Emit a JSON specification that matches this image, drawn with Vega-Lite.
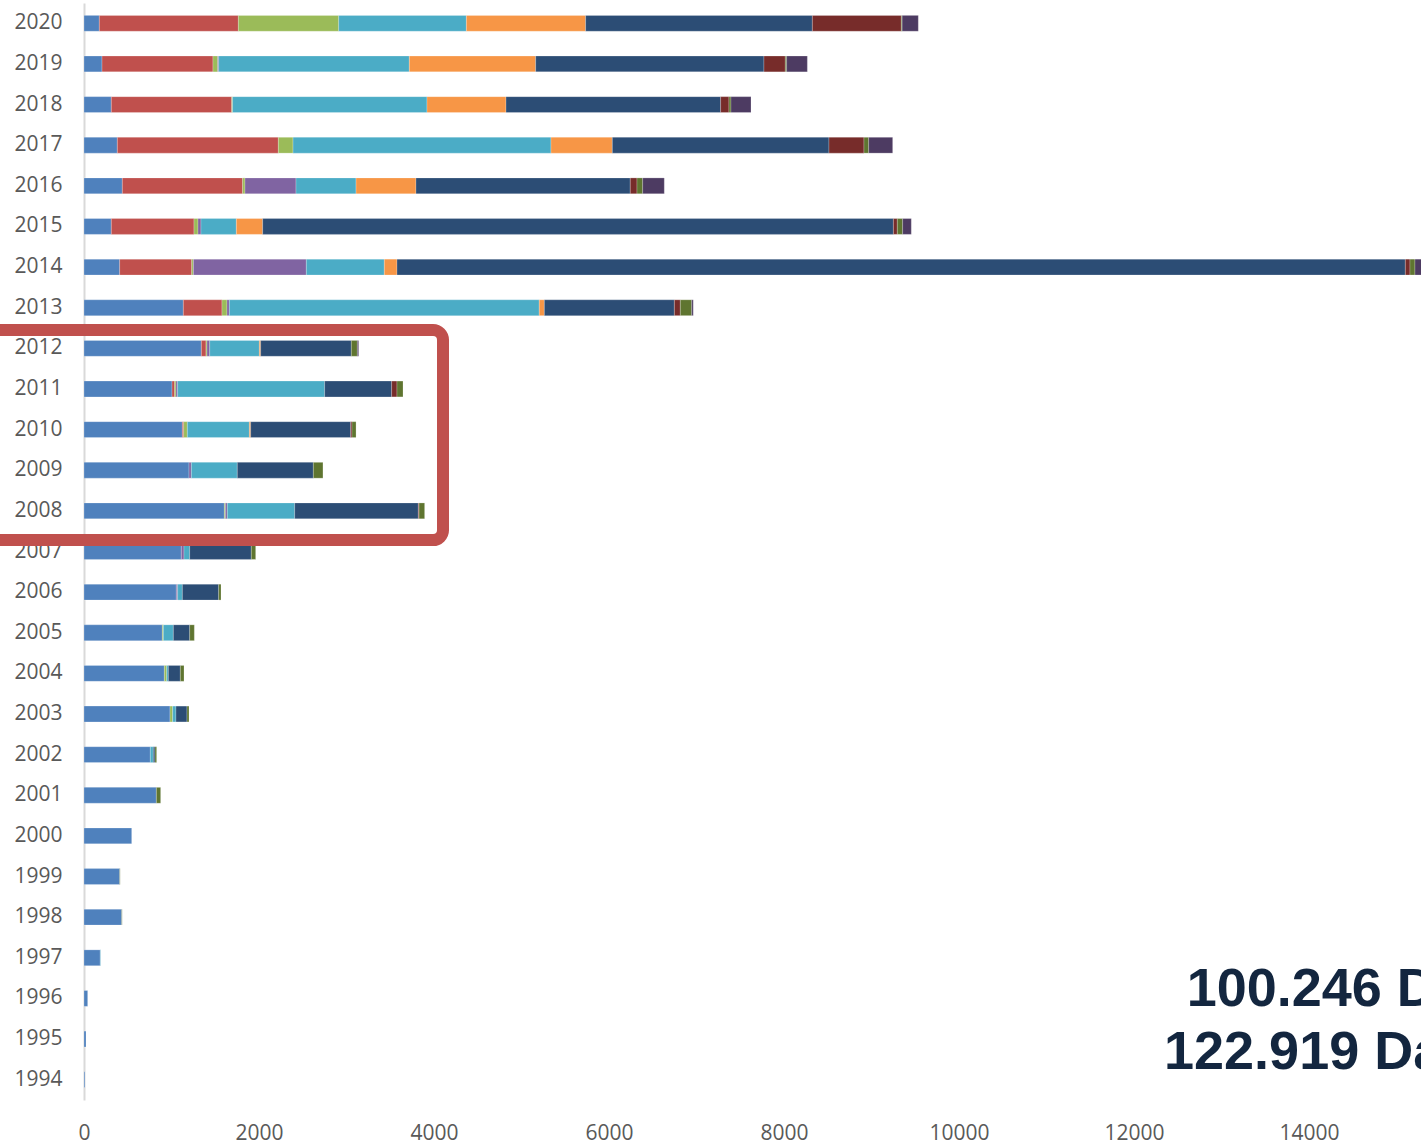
{
  "$schema": "https://vega.github.io/schema/vega-lite/v6.json",
  "autosize": {"type": "none"},
  "padding": {"left": 84, "top": 3, "right": 0, "bottom": 45},
  "width": 1337,
  "height": 1097,
  "background": "white",
  "config": {"view": {"stroke": null}, "font": "Open Sans"},
  "datasets": {
    "bars": [
      {"year": 2020, "series": "s01", "value": 175}, {"year": 2020, "series": "s02", "value": 1589}, {"year": 2020, "series": "s03", "value": 1147}, {"year": 2020, "series": "s05", "value": 1459}, {"year": 2020, "series": "s06", "value": 1363}, {"year": 2020, "series": "s07", "value": 2591}, {"year": 2020, "series": "s08", "value": 1017}, {"year": 2020, "series": "s09", "value": 9}, {"year": 2020, "series": "s10", "value": 185},
      {"year": 2019, "series": "s01", "value": 206}, {"year": 2019, "series": "s02", "value": 1268}, {"year": 2019, "series": "s03", "value": 54}, {"year": 2019, "series": "s04", "value": 11}, {"year": 2019, "series": "s05", "value": 2179}, {"year": 2019, "series": "s06", "value": 1444}, {"year": 2019, "series": "s07", "value": 2609}, {"year": 2019, "series": "s08", "value": 244}, {"year": 2019, "series": "s09", "value": 15}, {"year": 2019, "series": "s10", "value": 237},
      {"year": 2018, "series": "s01", "value": 312}, {"year": 2018, "series": "s02", "value": 1376}, {"year": 2018, "series": "s03", "value": 10}, {"year": 2018, "series": "s05", "value": 2222}, {"year": 2018, "series": "s06", "value": 903}, {"year": 2018, "series": "s07", "value": 2453}, {"year": 2018, "series": "s08", "value": 95}, {"year": 2018, "series": "s09", "value": 23}, {"year": 2018, "series": "s10", "value": 229},
      {"year": 2017, "series": "s01", "value": 381}, {"year": 2017, "series": "s02", "value": 1840}, {"year": 2017, "series": "s03", "value": 168}, {"year": 2017, "series": "s05", "value": 2948}, {"year": 2017, "series": "s06", "value": 701}, {"year": 2017, "series": "s07", "value": 2476}, {"year": 2017, "series": "s08", "value": 400}, {"year": 2017, "series": "s09", "value": 54}, {"year": 2017, "series": "s10", "value": 274},
      {"year": 2016, "series": "s01", "value": 438}, {"year": 2016, "series": "s02", "value": 1375}, {"year": 2016, "series": "s03", "value": 27}, {"year": 2016, "series": "s04", "value": 583}, {"year": 2016, "series": "s05", "value": 686}, {"year": 2016, "series": "s06", "value": 685}, {"year": 2016, "series": "s07", "value": 2449}, {"year": 2016, "series": "s08", "value": 77}, {"year": 2016, "series": "s09", "value": 65}, {"year": 2016, "series": "s10", "value": 247},
      {"year": 2015, "series": "s01", "value": 312}, {"year": 2015, "series": "s02", "value": 945}, {"year": 2015, "series": "s03", "value": 46}, {"year": 2015, "series": "s04", "value": 34}, {"year": 2015, "series": "s05", "value": 404}, {"year": 2015, "series": "s06", "value": 301}, {"year": 2015, "series": "s07", "value": 7208}, {"year": 2015, "series": "s08", "value": 45}, {"year": 2015, "series": "s09", "value": 61}, {"year": 2015, "series": "s10", "value": 99},
      {"year": 2014, "series": "s01", "value": 408}, {"year": 2014, "series": "s02", "value": 823}, {"year": 2014, "series": "s03", "value": 19}, {"year": 2014, "series": "s04", "value": 1291}, {"year": 2014, "series": "s05", "value": 891}, {"year": 2014, "series": "s06", "value": 145}, {"year": 2014, "series": "s07", "value": 11524}, {"year": 2014, "series": "s08", "value": 53}, {"year": 2014, "series": "s09", "value": 57}, {"year": 2014, "series": "s10", "value": 89},
      {"year": 2013, "series": "s01", "value": 1135}, {"year": 2013, "series": "s02", "value": 442}, {"year": 2013, "series": "s03", "value": 57}, {"year": 2013, "series": "s04", "value": 27}, {"year": 2013, "series": "s05", "value": 3542}, {"year": 2013, "series": "s06", "value": 58}, {"year": 2013, "series": "s07", "value": 1486}, {"year": 2013, "series": "s08", "value": 68}, {"year": 2013, "series": "s09", "value": 130}, {"year": 2013, "series": "s10", "value": 18},
      {"year": 2012, "series": "s01", "value": 1341}, {"year": 2012, "series": "s02", "value": 53}, {"year": 2012, "series": "s03", "value": 12}, {"year": 2012, "series": "s04", "value": 31}, {"year": 2012, "series": "s05", "value": 567}, {"year": 2012, "series": "s06", "value": 15}, {"year": 2012, "series": "s07", "value": 1036}, {"year": 2012, "series": "s09", "value": 69}, {"year": 2012, "series": "s10", "value": 15},
      {"year": 2011, "series": "s01", "value": 1006}, {"year": 2011, "series": "s02", "value": 30}, {"year": 2011, "series": "s03", "value": 15}, {"year": 2011, "series": "s04", "value": 19}, {"year": 2011, "series": "s05", "value": 1680}, {"year": 2011, "series": "s07", "value": 766}, {"year": 2011, "series": "s08", "value": 61}, {"year": 2011, "series": "s09", "value": 69},
      {"year": 2010, "series": "s01", "value": 1124}, {"year": 2010, "series": "s02", "value": 15}, {"year": 2010, "series": "s03", "value": 42}, {"year": 2010, "series": "s05", "value": 709}, {"year": 2010, "series": "s06", "value": 15}, {"year": 2010, "series": "s07", "value": 1143}, {"year": 2010, "series": "s08", "value": 15}, {"year": 2010, "series": "s09", "value": 46},
      {"year": 2009, "series": "s01", "value": 1200}, {"year": 2009, "series": "s04", "value": 27}, {"year": 2009, "series": "s05", "value": 525}, {"year": 2009, "series": "s07", "value": 869}, {"year": 2009, "series": "s09", "value": 110},
      {"year": 2008, "series": "s01", "value": 1604}, {"year": 2008, "series": "s03", "value": 12}, {"year": 2008, "series": "s04", "value": 22}, {"year": 2008, "series": "s05", "value": 770}, {"year": 2008, "series": "s07", "value": 1413}, {"year": 2008, "series": "s08", "value": 8}, {"year": 2008, "series": "s09", "value": 64},
      {"year": 2007, "series": "s01", "value": 1112}, {"year": 2007, "series": "s04", "value": 31}, {"year": 2007, "series": "s05", "value": 65}, {"year": 2007, "series": "s07", "value": 704}, {"year": 2007, "series": "s09", "value": 50},
      {"year": 2006, "series": "s01", "value": 1055}, {"year": 2006, "series": "s04", "value": 15}, {"year": 2006, "series": "s05", "value": 54}, {"year": 2006, "series": "s07", "value": 415}, {"year": 2006, "series": "s09", "value": 27},
      {"year": 2005, "series": "s01", "value": 895}, {"year": 2005, "series": "s03", "value": 12}, {"year": 2005, "series": "s05", "value": 114}, {"year": 2005, "series": "s07", "value": 187}, {"year": 2005, "series": "s09", "value": 53},
      {"year": 2004, "series": "s01", "value": 918}, {"year": 2004, "series": "s03", "value": 27}, {"year": 2004, "series": "s05", "value": 19}, {"year": 2004, "series": "s07", "value": 137}, {"year": 2004, "series": "s09", "value": 42},
      {"year": 2003, "series": "s01", "value": 983}, {"year": 2003, "series": "s03", "value": 30}, {"year": 2003, "series": "s05", "value": 38}, {"year": 2003, "series": "s07", "value": 126}, {"year": 2003, "series": "s09", "value": 23},
      {"year": 2002, "series": "s01", "value": 758}, {"year": 2002, "series": "s05", "value": 34}, {"year": 2002, "series": "s07", "value": 19}, {"year": 2002, "series": "s09", "value": 19},
      {"year": 2001, "series": "s01", "value": 827}, {"year": 2001, "series": "s09", "value": 49},
      {"year": 2000, "series": "s01", "value": 545},
      {"year": 1999, "series": "s01", "value": 408}, {"year": 1999, "series": "s09", "value": 5},
      {"year": 1998, "series": "s01", "value": 431}, {"year": 1998, "series": "s09", "value": 5},
      {"year": 1997, "series": "s01", "value": 186}, {"year": 1997, "series": "s05", "value": 5},
      {"year": 1996, "series": "s01", "value": 42},
      {"year": 1995, "series": "s01", "value": 23},
      {"year": 1994, "series": "s01", "value": 10}
    ]
  },
  "layer": [
    {
      "data": {"name": "bars"},
      "mark": {"type": "bar", "clip": true, "stroke": "#ffffff", "strokeWidth": 0.5, "strokeOpacity": 0.45},
      "encoding": {
        "y": {
          "field": "year", "type": "ordinal", "sort": "descending",
          "scale": {"paddingInner": 0.61, "paddingOuter": 0.305},
          "axis": {"title": null, "ticks": false, "domainColor": "#D9D9D9", "domainWidth": 2, "labelFontSize": 21, "labelColor": "#595959", "labelPadding": 22, "labelFont": "Open Sans"}
        },
        "x": {
          "field": "value", "type": "quantitative", "stack": "zero",
          "scale": {"domain": [0, 15280], "nice": false, "zero": true},
          "axis": {"title": null, "domain": false, "ticks": false, "tickSize": 0, "grid": false, "values": [0, 2000, 4000, 6000, 8000, 10000, 12000, 14000], "format": "d", "labelFlush": false, "labelFontSize": 21, "labelColor": "#595959", "labelPadding": 22, "labelFont": "Open Sans"}
        },
        "color": {
          "field": "series", "type": "nominal", "legend": null,
          "scale": {
            "domain": ["s01", "s02", "s03", "s04", "s05", "s06", "s07", "s08", "s09", "s10"],
            "range": ["#4F81BD", "#C0504D", "#9BBB59", "#8064A2", "#4BACC6", "#F79646", "#2C4D75", "#772C2A", "#5F7530", "#4D3B62"]
          }
        },
        "order": {"field": "series", "sort": "ascending"}
      }
    },
    {
      "data": {"values": [{}]},
      "mark": {"type": "rect", "filled": false, "color": "#C0504D", "strokeWidth": 12, "cornerRadius": 10, "clip": false},
      "encoding": {
        "x": {"datum": -2000, "type": "quantitative", "scale": {"domain": [0, 15280], "nice": false}},
        "x2": {"datum": 4103},
        "y": {"datum": 2012.45, "type": "quantitative", "scale": {"domain": [1993.5, 2020.5], "nice": false, "zero": false}, "axis": null},
        "y2": {"datum": 2007.28}
      }
    },
    {
      "data": {"values": [{}]},
      "mark": {"type": "text", "text": "100.246 D", "align": "left", "baseline": "alphabetic", "font": "Liberation Sans", "fontWeight": "bold", "fontSize": 54, "color": "#13263F", "clip": true},
      "encoding": {
        "x": {"datum": 12602, "type": "quantitative", "scale": {"domain": [0, 15280], "nice": false}},
        "y": {"datum": 1995.82, "type": "quantitative", "scale": {"domain": [1993.5, 2020.5], "nice": false, "zero": false}, "axis": null}
      }
    },
    {
      "data": {"values": [{}]},
      "mark": {"type": "text", "text": "122.919 Da", "align": "left", "baseline": "alphabetic", "font": "Liberation Sans", "fontWeight": "bold", "fontSize": 54, "color": "#13263F", "clip": true},
      "encoding": {
        "x": {"datum": 12343, "type": "quantitative", "scale": {"domain": [0, 15280], "nice": false}},
        "y": {"datum": 1994.26, "type": "quantitative", "scale": {"domain": [1993.5, 2020.5], "nice": false, "zero": false}, "axis": null}
      }
    }
  ],
  "resolve": {"scale": {"y": "independent"}}
}
